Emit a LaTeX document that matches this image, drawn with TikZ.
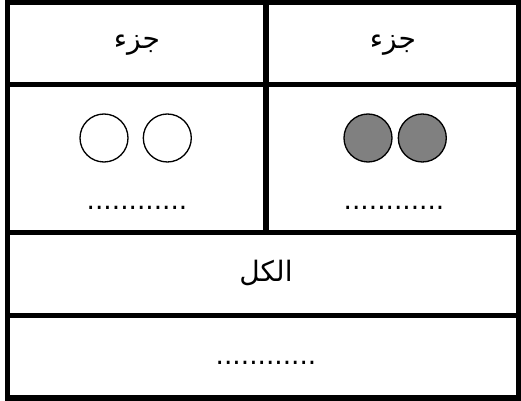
\documentclass[tikz,border=0pt]{standalone}
\usepackage{fontspec}
\usepackage{tikz}
\usetikzlibrary{positioning}
\TeXXeTstate=1
\newfontfamily\arabicfont[Script=Arabic]{DejaVu Sans}
\definecolor{Ink}{HTML}{000000}
\definecolor{Counter}{HTML}{808080}
\tikzset{
  grid/.style={draw=Ink,line width=2.85pt},
  label/.style={font=\arabicfont\fontsize{16}{19}\selectfont,text=Ink,inner sep=0pt},
  blank/.style={font=\arabicfont\fontsize{15}{18}\selectfont,text=Ink,inner sep=0pt},
  emptydot/.style={circle,draw=Ink,line width=.75pt,fill=white,minimum size=.96cm,inner sep=0pt},
  fulldot/.style={circle,draw=Ink,line width=.75pt,fill=Counter,minimum size=.96cm,inner sep=0pt}
}
\begin{document}
\begin{tikzpicture}[x=.02cm,y=-.02cm]
      \useasboundingbox (0,0) rectangle (521,401);
      \draw[grid] (7.5,2.5) rectangle (518.5,398);
      \draw[grid] (7.5,85) -- (518.5,85);
      \draw[grid] (7.5,233) -- (518.5,233);
      \draw[grid] (7.5,316) -- (518.5,316);
      \draw[grid] (266,2.5) -- (266,233);
      \node[label] (partl) at (137,45) {\beginR جزء\endR};
      \node[label] (partr) at (393,45) {\beginR جزء\endR};
      \node[emptydot] (a1) at (104,138) {};
      \node[emptydot,right=.28cm of a1] (a2) {};
      \node[fulldot] (b1) at (368,138) {};
      \node[fulldot,right=.1cm of b1] (b2) {};
      \node[blank] (gapl) at (137,208) {............};
      \node[blank] (gapr) at (394,208) {............};
      \node[label] (whole) at (266,273) {\beginR الكل\endR};
      \node[blank] (gapw) at (266,363) {............};
    \end{tikzpicture}
\end{document}
